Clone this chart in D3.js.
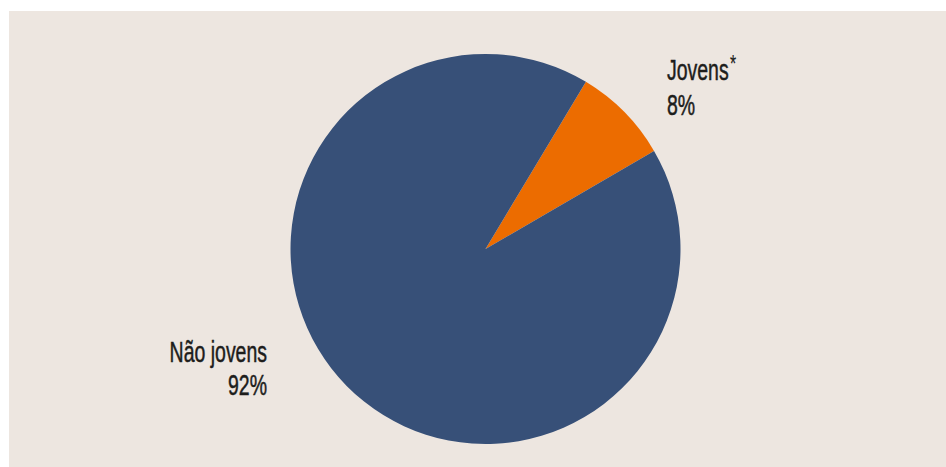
<!DOCTYPE html>
<html>
<head>
<meta charset="utf-8">
<script src="https://cdn.jsdelivr.net/npm/d3@7"></script>
<style>
  html, body { margin: 0; padding: 0; background: #ffffff; }
  svg { display: block; }
  text { font-family: "Liberation Sans", Arial, sans-serif; fill: #1d1d1b; stroke: #1d1d1b; stroke-width: 0.5; }
</style>
</head>
<body>
<svg id="chart" width="946" height="467"></svg>
<script>
// Share of the group: young people vs. everyone else
const categories = ["Jovens", "Não jovens"];
const values = [8, 92];
const valueLabels = ["8%", "92%"];
const colors = ["#ec6c00", "#375078"];

const width = 946, height = 467;
const svg = d3.select("#chart");

// beige panel
svg.append("rect")
  .attr("x", 9).attr("y", 11)
  .attr("width", width - 9).attr("height", height - 11)
  .attr("fill", "#ede6e0");

const cx = 485.5, cy = 249, radius = 195;
const startDeg = 31;

const pie = d3.pie()
  .sort(null)
  .value(d => d)
  .startAngle(startDeg * Math.PI / 180)
  .endAngle(startDeg * Math.PI / 180 + 2 * Math.PI);

const arc = d3.arc().innerRadius(0).outerRadius(radius);
const color = d3.scaleOrdinal().domain(categories).range(colors);

const g = svg.append("g").attr("transform", `translate(${cx},${cy})`);
g.selectAll("path")
  .data(pie(values))
  .join("path")
  .attr("d", arc)
  .attr("fill", (d, i) => color(categories[i]));

// labels in a tall, condensed face
const fs = 29.5, sx = 0.66;
function label(x, y, anchor) {
  return svg.append("g")
    .attr("transform", `translate(${x},${y}) scale(${sx},1)`)
    .append("text")
    .attr("text-anchor", anchor)
    .attr("font-size", fs);
}

const jov = label(667, 80, "start");
jov.append("tspan").text(categories[0]);
jov.append("tspan").attr("dy", -8).attr("dx", 2).attr("font-size", 24)
  .style("stroke-width", 0.2).text("*");
label(667, 115, "start").text(valueLabels[0]);

label(267, 362, "end").text(categories[1]);
label(267, 395, "end").text(valueLabels[1]);
</script>
</body>
</html>
